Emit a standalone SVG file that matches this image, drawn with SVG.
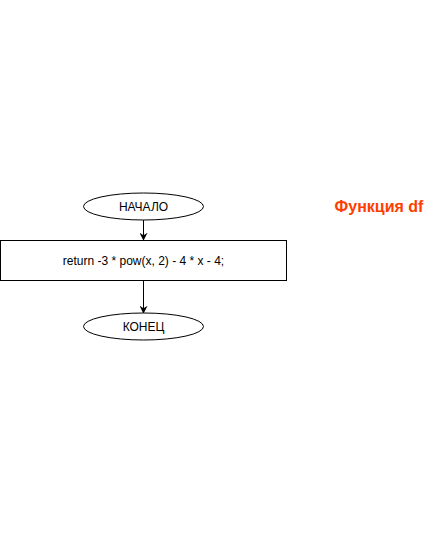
<svg xmlns="http://www.w3.org/2000/svg" width="440" height="541" viewBox="0 0 440 541">
<style>
.shape{fill:#fff;stroke:#000;stroke-width:1}
.t{font-family:"Liberation Sans",Arial,sans-serif;font-size:12px;fill:#000;text-anchor:middle;dominant-baseline:central}
.title{font-family:"Liberation Sans",Arial,sans-serif;font-size:16px;font-weight:bold;fill:#FF3D00;text-anchor:middle;dominant-baseline:central}
.edge{stroke:#000;stroke-width:1;fill:none;marker-end:url(#arr)}
</style>
<defs>
<marker id="arr" viewBox="0 0 10 10" refX="9" refY="5" markerWidth="8" markerHeight="8" orient="auto" markerUnits="userSpaceOnUse">
<path d="M0,0 L10,5 L0,10 L3,5 Z" fill="#000"/>
</marker>
</defs>
<rect width="440" height="541" fill="#fff"/>
<g id="connectors">
<path class="edge" d="M143.5,220 L143.5,240"/>
<path class="edge" d="M143.5,280.5 L143.5,313"/>
</g>
<g id="start">
<ellipse class="shape" cx="143.5" cy="206.5" rx="60" ry="13.5"/>
<text class="t" x="143.5" y="206.5">НАЧАЛО</text>
</g>
<g id="process">
<rect class="shape" x="0.5" y="240.5" width="286" height="40"/>
<text class="t" x="143.5" y="260.5">return -3 * pow(x, 2) - 4 * x - 4;</text>
</g>
<g id="end">
<ellipse class="shape" cx="143.5" cy="326.5" rx="60" ry="13.5"/>
<text class="t" x="143.5" y="326.5">КОНЕЦ</text>
</g>
<g id="title">
<text class="title" x="379" y="206">Функция df</text>
</g>
</svg>
